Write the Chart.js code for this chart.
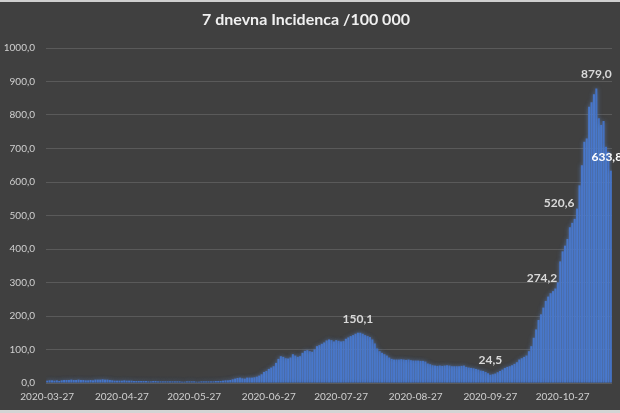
<!DOCTYPE html>
<html>
<head>
<meta charset="utf-8">
<script src="https://cdn.jsdelivr.net/npm/chart.js@4.4.0/dist/chart.umd.min.js"></script>
<style>
  html, body { margin: 0; padding: 0; background: #404040; }
  #wrap { position: relative; width: 620px; height: 413px; overflow: hidden; }
  canvas { position: absolute; left: 0; top: 0; }
</style>
</head>
<body>
<div id="wrap"><canvas id="c" width="620" height="413"></canvas></div>
<script>
// ---- data ----
const chartTitle = '7 dnevna Incidenca /100 000';
const firstDate = '2020-03-27';
const tickLabels = ['2020-03-27','2020-04-27','2020-05-27','2020-06-27','2020-07-27','2020-08-27','2020-09-27','2020-10-27'];
const yTicks = [0,100,200,300,400,500,600,700,800,900,1000];

// 7-day incidence per 100 000, one value per day from 2020-03-27
const incidence = [
  7,8,8,7,8,6,8,9,9,9,
  10,9,9,10,9,9,8,8,9,8,
  10,10,10,11,10,10,9,8,7,7,
  7,7,8,7,7,7,6,6,6,6,
  6,6,5,5,6,6,5,5,5,5,
  5,5,5,5,5,5,4,4,5,5,
  5,5,4,4,5,5,5,5,5,5,
  6,6,6,7,8,8,9,11,13,15,
  16,14,13,16,16,16,17,19,22,26,
  33,36,42,46,50,60,72,80,78,74,
  73,76,86,82,78,80,90,96,98,95,
  93,100,110,113,117,121,127,130,128,124,
  128,126,124,125,132,136,140,143,147,150.1,
  150,147,143,140,137,130,118,103,95,90,
  86,82,76,72,70,70,70,71,70,69,
  70,68,67,67,67,66,66,64,58,56,
  53,52,51,52,51,52,53,52,50,50,
  50,50,51,52,48,46,45,44,42,40,
  37,36,33,29,24.5,26,28,32,36,40,
  45,48,50,53,57,62,70,74,78,82,
  95,110,135,160,188,205,225,245,258,268,
  274.2,282,300,363,393,410,430,465,478,490,
  520.6,590,650,720,730,825,838,862,879.0,790,
  770,782,705,690,633.8
];

// days with a printed value
const labelledDays = ['2020-08-03','2020-09-27','2020-10-23','2020-11-02','2020-11-10','2020-11-16'];

// categories: consecutive calendar days
const categories = [];
{
  const d0 = new Date(firstDate + 'T00:00:00Z');
  for (let i = 0; i < incidence.length; i++) {
    const d = new Date(d0.getTime() + i * 86400000);
    categories.push(d.toISOString().slice(0, 10));
  }
}

const fmt = v => v.toFixed(1).replace('.', ',');

// ---- plugins ----
const bgPlugin = {
  id: 'bg',
  beforeDraw(chart) {
    const ctx = chart.ctx;
    ctx.save();
    ctx.fillStyle = '#404040';
    ctx.fillRect(0, 0, chart.width, chart.height);
    ctx.fillStyle = '#cfcfcf';
    ctx.fillRect(0, 0, chart.width, 2);
    ctx.fillStyle = '#d4d4d4';
    ctx.fillRect(0, chart.height - 3, chart.width, 3);
    ctx.restore();
  }
};

const glowPlugin = {
  id: 'glow',
  beforeDatasetsDraw(chart) {
    const ctx = chart.ctx;
    ctx.save();
    ctx.shadowColor = 'rgba(110,160,245,0.55)';
    ctx.shadowBlur = 4;
  },
  afterDatasetsDraw(chart) {
    chart.ctx.restore();
  }
};

const labelStyle = {
  '2020-08-03': { dx: 0, dy: -14, color: '#d9d9d9' },
  '2020-09-27': { dx: 0, dy: -15, color: '#d9d9d9' },
  '2020-10-23': { dx: -11, dy: -13, color: '#d9d9d9' },
  '2020-11-02': { dx: -18, dy: -5, color: '#d9d9d9' },
  '2020-11-10': { dx: 0, dy: -14, color: '#d9d9d9' },
  '2020-11-16': { dx: -4, dy: -14, color: '#ffffff' }
};

const valueLabelPlugin = {
  id: 'valueLabels',
  afterDatasetsDraw(chart) {
    const ctx = chart.ctx;
    const meta = chart.getDatasetMeta(0);
    ctx.save();
    ctx.font = 'bold 12px Lato, "Open Sans", sans-serif';
    ctx.textAlign = 'center';
    ctx.textBaseline = 'middle';
    labelledDays.forEach(day => {
      const idx = categories.indexOf(day);
      if (idx < 0) return;
      const bar = meta.data[idx];
      const st = labelStyle[day];
      ctx.fillStyle = st.color;
      ctx.fillText(fmt(incidence[idx]), bar.x + st.dx, bar.y + st.dy);
    });
    ctx.restore();
  }
};

new Chart(document.getElementById('c'), {
  type: 'bar',
  data: {
    labels: categories,
    datasets: [{
      data: incidence,
      backgroundColor: '#4472C4',
      borderWidth: 0,
      barPercentage: 0.85,
      categoryPercentage: 1.0
    }]
  },
  options: {
    responsive: false,
    animation: false,
    devicePixelRatio: 1,
    layout: { padding: { left: 0, right: 8, top: 0, bottom: 0 } },
    plugins: {
      legend: { display: false },
      tooltip: { enabled: false },
      title: {
        display: true,
        text: chartTitle,
        color: '#f0f0f0',
        font: { family: 'Lato, "Open Sans", sans-serif', size: 16, weight: 'bold', lineHeight: 1.2 },
        padding: { top: 10, bottom: 18.8 }
      }
    },
    scales: {
      x: {
        type: 'category',
        grid: { display: false, drawTicks: false },
        border: { display: false },
        ticks: {
          autoSkip: false,
          maxRotation: 0,
          minRotation: 0,
          padding: 8,
          color: '#d0d0d0',
          font: { family: 'Lato, "Open Sans", sans-serif', size: 10 },
          callback: function (value, index) {
            const lab = categories[index];
            return tickLabels.includes(lab) ? lab : null;
          }
        },
        afterFit(scale) { scale.height = 30; }
      },
      y: {
        min: 0,
        max: 1000,
        afterBuildTicks(scale) { scale.ticks = yTicks.map(v => ({ value: v })); },
        grid: { color: '#5a5a5a', lineWidth: 1, drawTicks: false },
        border: { display: false },
        ticks: {
          padding: 11,
          color: '#d0d0d0',
          font: { family: 'Lato, "Open Sans", sans-serif', size: 10 },
          callback: v => fmt(v)
        },
        afterFit(scale) { scale.width = 46; }
      }
    }
  },
  plugins: [bgPlugin, glowPlugin, valueLabelPlugin]
});
</script>
</body>
</html>
